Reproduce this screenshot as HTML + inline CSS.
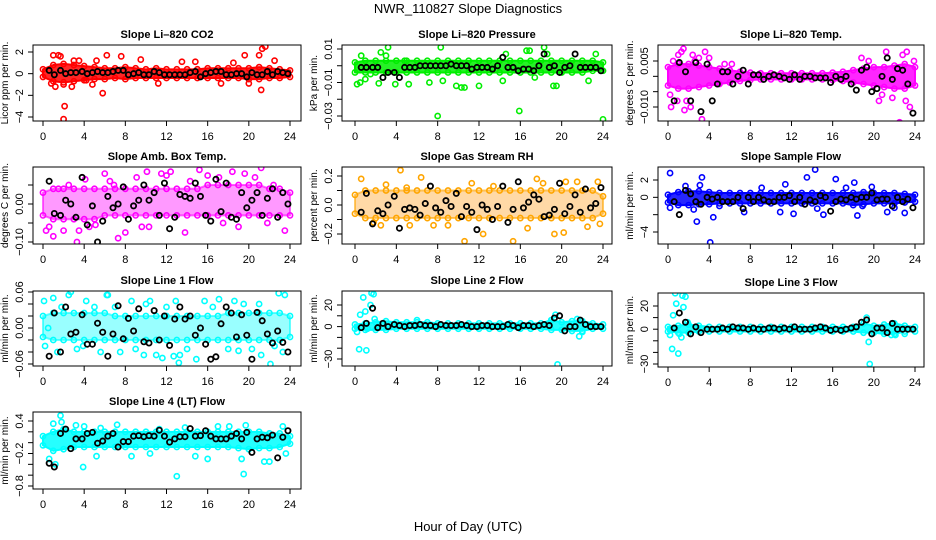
<!DOCTYPE html>
<html><head><meta charset="utf-8"><title>NWR_110827 Slope Diagnostics</title>
<style>
html,body{margin:0;padding:0;background:#fff;}
svg{display:block;font-family:"Liberation Sans",Arial,sans-serif;}
</style></head>
<body>
<svg id="chart" width="936" height="540" viewBox="0 0 936 540" xmlns="http://www.w3.org/2000/svg">
<rect width="936" height="540" fill="#fff"/>
<text x="468" y="13" text-anchor="middle" font-size="13">NWR_110827  Slope Diagnostics</text>
<text x="468" y="531" text-anchor="middle" font-size="13">Hour of Day (UTC)</text>
</svg>
<script>
// ---------- DATA ----------
const bandHours = [0,1,2,3,4,5,6,7,8,9,10,11,12,13,14,15,16,17,18,19,20,21,22,23,24];
const blackHours = [0.6,1.1,1.7,2.2,2.7,3.2,3.8,4.3,4.8,5.3,5.8,6.3,6.8,7.3,7.8,8.3,8.8,9.3,9.8,10.3,10.8,11.3,11.8,12.3,12.8,13.3,13.8,14.3,14.8,15.3,15.8,16.3,16.8,17.3,17.8,18.3,18.8,19.3,19.8,20.3,20.8,21.3,21.8,22.3,22.8,23.3,23.8];
const xTicks = [0,4,8,12,16,20,24];

// Li-820 CO2
const co2Hi = [0.4,0.8,0.9,0.8,0.7,0.6,0.5,0.5,0.6,0.5,0.4,0.5,0.4,0.4,0.4,0.4,0.5,0.5,0.5,0.5,0.5,0.6,0.5,0.4,0.3];
const co2Lo = [-0.3,-0.7,-0.8,-0.7,-0.6,-0.5,-0.5,-0.4,-0.5,-0.4,-0.4,-0.4,-0.4,-0.4,-0.4,-0.4,-0.4,-0.4,-0.4,-0.4,-0.5,-0.5,-0.4,-0.4,-0.3];
const co2Out = [[1.0,1.7],[1.5,1.7],[1.7,1.6],[2.0,-1.0],[2.1,-3.0],[2.0,-4.2],[2.8,-1.2],[3.5,1.2],[4.2,-0.6],[5.2,1.2],[5.8,-1.8],[6.2,1.7],[7.6,1.6],[9.5,1.3],[11.2,-0.9],[13.5,1.1],[14.8,1.1],[17.3,-0.9],[18.5,1.0],[19.6,1.7],[20.0,-0.9],[21.0,1.7],[21.2,-1.5],[21.3,2.3],[21.6,2.5],[22.5,1.2],[0.8,-0.9],[1.2,-1.2],[3.0,1.2],[4.8,-1.0]];
const co2Black = [0.3,-0.1,0.3,0.0,0.1,0.1,0.2,0.0,0.1,0.2,0.1,0.1,0.2,0.3,0.3,-0.1,0.0,0.1,-0.1,-0.1,0.2,0.1,-0.1,-0.1,-0.1,-0.1,-0.1,0.1,0.2,-0.3,0.0,0.1,0.2,0.2,-0.1,-0.1,0.0,0.0,-0.3,0.1,-0.1,-0.1,0.2,-0.1,0.2,0.1,0.0];

// Li-820 Pressure
const presHi = [0.002,0.003,0.003,0.003,0.003,0.003,0.003,0.003,0.003,0.003,0.003,0.003,0.003,0.003,0.003,0.003,0.003,0.003,0.003,0.003,0.003,0.003,0.003,0.003,0.002];
const presLo = [-0.004,-0.004,-0.004,-0.004,-0.004,-0.004,-0.004,-0.004,-0.004,-0.004,-0.004,-0.004,-0.004,-0.004,-0.004,-0.004,-0.004,-0.004,-0.004,-0.004,-0.004,-0.004,-0.004,-0.003,-0.003];
const presOut = [[0.2,-0.011],[0.5,-0.010],[0.6,0.006],[1.0,-0.008],[1.5,-0.005],[2.3,-0.0105],[2.5,0.008],[3.0,0.006],[3.2,0.011],[3.9,-0.011],[4.8,0.003],[5.2,-0.011],[7.2,-0.010],[8.0,-0.030],[8.3,0.011],[8.5,-0.009],[9.8,-0.012],[10.3,-0.013],[10.6,-0.013],[12.0,-0.012],[14.3,-0.009],[14.6,0.007],[15.9,-0.027],[16.6,0.009],[16.9,0.009],[17.4,-0.007],[18.3,0.011],[18.6,0.007],[19.2,-0.012],[19.5,-0.012],[22.6,-0.009],[23.3,0.007],[24.0,-0.032]];
const presBlack = [-0.001,-0.001,-0.001,-0.001,-0.007,-0.004,-0.004,-0.007,-0.001,-0.001,-0.001,0.0,0.0,0.0,0.0,0.0,0.0,0.001,0.0,0.0,0.0,-0.002,-0.001,-0.001,-0.001,-0.002,0.0,0.005,-0.001,-0.001,-0.003,-0.002,-0.002,-0.003,0.0,0.007,-0.001,0.0,-0.004,-0.001,0.0,0.007,-0.001,-0.001,-0.001,-0.001,-0.003];

// Li-820 Temp
const tempHi = [0.003,0.004,0.004,0.0035,0.003,0.0025,0.002,0.0015,0.0012,0.001,0.001,0.001,0.001,0.001,0.001,0.001,0.0012,0.0015,0.002,0.0025,0.003,0.003,0.0035,0.004,0.003];
const tempLo = [-0.003,-0.004,-0.004,-0.0035,-0.003,-0.0025,-0.002,-0.0015,-0.0012,-0.001,-0.001,-0.001,-0.001,-0.001,-0.001,-0.001,-0.0012,-0.0015,-0.002,-0.0025,-0.003,-0.0035,-0.004,-0.004,-0.003];
const tempOut = [[0.3,-0.010],[1.0,0.007],[1.3,0.008],[1.5,0.009],[1.8,-0.008],[2.4,0.007],[3.3,-0.014],[3.6,0.008],[2.2,-0.010],[4.0,0.006],[18.8,0.006],[20.5,-0.008],[21.2,0.008],[22.5,-0.015],[22.8,0.007],[23.2,0.008],[23.1,-0.008],[23.5,-0.010],[0.9,-0.008],[3.0,0.006],[0.5,0.005],[5.5,0.004],[6.2,0.004],[19.5,0.005],[20.8,-0.006],[0.2,-0.006],[1.6,-0.011],[2.6,0.005],[21.8,-0.007],[23.9,0.005]];
const tempBlack = [-0.008,0.0045,0.0015,-0.008,0.0045,-0.0115,0.004,-0.008,-0.0025,0.0015,0.0015,-0.0025,0.0,0.002,-0.0025,0.0005,0.0005,-0.001,0.0,0.0005,0.0,-0.0005,-0.001,0.0005,-0.001,0.0,0.0,-0.0005,-0.0005,-0.0005,-0.002,0.0,-0.001,0.0,-0.0025,-0.0045,0.002,0.003,-0.005,-0.004,0.0,0.006,-0.001,0.0025,0.002,-0.0025,-0.012];

// Amb. Box Temp
const ambHi = [0.03,0.04,0.04,0.04,0.04,0.04,0.04,0.04,0.04,0.04,0.04,0.04,0.04,0.04,0.04,0.04,0.05,0.05,0.05,0.05,0.05,0.05,0.04,0.04,0.03];
const ambLo = [-0.03,-0.04,-0.04,-0.04,-0.04,-0.04,-0.03,-0.03,-0.03,-0.03,-0.03,-0.03,-0.03,-0.03,-0.03,-0.03,-0.03,-0.03,-0.03,-0.03,-0.03,-0.03,-0.03,-0.03,-0.03];
const ambOut = [[0.3,-0.07],[0.6,-0.06],[1.0,-0.085],[1.5,0.04],[2.0,-0.07],[3.3,-0.10],[3.5,-0.07],[4.1,0.065],[5.1,-0.055],[6.0,0.08],[6.5,0.06],[7.3,-0.09],[8.0,-0.075],[9.1,0.07],[10.1,0.085],[10.3,-0.06],[11.5,0.08],[12.4,0.085],[13.8,-0.075],[15.2,0.09],[16.0,0.075],[17.5,-0.05],[18.4,0.085],[19.6,0.08],[20.6,0.07],[21.2,0.095],[22.4,0.05],[23.5,-0.07],[12.0,0.075],[17.1,0.07],[2.5,0.05],[4.5,-0.06],[6.9,0.05],[9.6,-0.06],[14.3,0.06],[19.0,-0.06],[21.8,-0.05]];
const ambBlack = [0.06,-0.025,-0.03,0.01,0.0,-0.035,0.07,-0.055,-0.005,-0.1,-0.045,0.02,-0.01,0.0,0.045,-0.04,-0.005,0.01,0.05,0.01,0.03,-0.03,0.055,-0.065,-0.035,0.025,0.02,0.015,0.055,0.02,-0.03,-0.045,0.065,-0.02,0.055,-0.035,-0.04,0.03,-0.01,0.01,0.03,-0.03,0.015,0.04,-0.035,0.03,0.0];

// Gas Stream RH
const rhHi = [0.07,0.1,0.1,0.1,0.1,0.1,0.1,0.1,0.1,0.1,0.1,0.1,0.1,0.1,0.1,0.1,0.1,0.1,0.1,0.1,0.1,0.1,0.1,0.1,0.06];
const rhLo = [-0.06,-0.09,-0.09,-0.09,-0.09,-0.09,-0.09,-0.09,-0.09,-0.09,-0.09,-0.09,-0.09,-0.09,-0.09,-0.09,-0.09,-0.09,-0.09,-0.09,-0.09,-0.09,-0.09,-0.09,-0.06];
const rhOut = [[0.6,0.18],[1.8,-0.12],[2.5,-0.14],[3.0,0.14],[4.4,0.24],[5.3,-0.14],[6.4,0.19],[7.6,-0.14],[9.0,-0.14],[10.6,-0.25],[11.3,0.15],[12.4,-0.2],[15.3,-0.25],[16.7,-0.16],[17.6,0.18],[18.2,0.15],[19.3,-0.2],[20.2,-0.19],[20.4,0.16],[21.5,0.16],[22.5,-0.15],[23.5,0.16],[23.7,-0.13],[5.0,0.12],[13.4,0.13]];
const rhBlack = [-0.05,0.08,-0.13,-0.04,-0.06,0.0,0.06,-0.16,-0.03,-0.02,-0.03,-0.07,0.01,0.13,-0.02,-0.05,0.03,-0.01,0.08,-0.08,-0.01,-0.05,-0.17,0.0,-0.03,-0.1,-0.01,0.13,-0.12,-0.03,0.16,-0.02,0.02,0.07,0.04,-0.08,-0.07,-0.03,0.15,-0.06,-0.01,0.07,-0.05,0.11,-0.02,0.01,0.12];

// Sample Flow
const smpHi = [0.3,0.6,0.7,0.7,0.6,0.5,0.5,0.5,0.5,0.5,0.5,0.5,0.5,0.5,0.5,0.5,0.5,0.5,0.5,0.6,0.5,0.5,0.5,0.4,0.3];
const smpLo = [-0.6,-0.9,-0.9,-0.8,-0.8,-0.7,-0.7,-0.7,-0.7,-0.7,-0.7,-0.7,-0.7,-0.7,-0.7,-0.7,-0.7,-0.7,-0.9,-0.8,-0.7,-0.7,-0.7,-0.6,-0.5];
const smpOut = [[0.2,2.8],[0.2,-1.2],[1.7,1.3],[2.5,-1.4],[2.8,-2.8],[3.1,1.4],[3.3,2.3],[4.1,-5.2],[4.4,-2.3],[5.0,-1.0],[7.4,-1.7],[9.1,1.1],[10.9,-1.7],[11.4,1.5],[12.2,-1.9],[13.5,2.3],[14.3,3.2],[14.5,-1.3],[15.1,-2.0],[16.3,2.1],[17.3,1.1],[18.1,1.7],[18.4,-2.1],[18.9,-1.0],[19.8,1.2],[21.3,-1.7],[23.0,-1.8],[22.0,-1.2]];
const smpBlack = [-0.5,-2.0,0.8,0.4,-0.5,-0.8,0.0,-0.2,0.0,-0.5,-0.5,-0.5,0.0,-1.3,0.0,-0.5,0.0,-0.3,-0.5,-0.5,0.0,0.0,0.2,-0.5,0.0,-0.8,-0.3,-0.5,0.2,0.0,-1.6,-0.5,-0.2,-0.3,0.0,-0.2,0.0,0.0,0.5,-0.3,-0.2,-0.2,-1.0,0.0,-0.5,-0.2,-1.2];

// Line 1 Flow
const l1Hi = [0.02,0.025,0.025,0.025,0.025,0.025,0.025,0.02,0.02,0.02,0.02,0.02,0.02,0.02,0.02,0.02,0.02,0.02,0.025,0.025,0.025,0.025,0.025,0.025,0.02];
const l1Lo = [-0.015,-0.02,-0.02,-0.02,-0.02,-0.02,-0.02,-0.02,-0.02,-0.02,-0.02,-0.02,-0.02,-0.02,-0.02,-0.02,-0.02,-0.02,-0.02,-0.02,-0.02,-0.02,-0.02,-0.02,-0.015];
const l1Out = [[0.1,0.045],[0.2,-0.03],[1.0,0.05],[1.4,-0.04],[2.5,0.055],[2.7,0.06],[3.3,-0.035],[4.2,0.045],[5.6,-0.04],[6.2,0.055],[6.3,0.055],[7.5,-0.04],[8.6,0.045],[9.8,-0.045],[10.4,0.045],[11.0,-0.045],[11.6,-0.05],[12.7,-0.047],[12.9,0.045],[13.2,-0.058],[13.3,-0.045],[14.9,-0.052],[15.7,0.045],[17.1,0.048],[18.6,0.045],[19.0,-0.038],[20.3,-0.035],[21.2,-0.045],[22.1,-0.06],[22.9,0.058],[23.5,0.055],[23.3,-0.04],[0.5,0.0],[1.8,0.035],[3.9,-0.03],[5.0,0.035],[7.0,0.035],[9.0,-0.035],[10.0,0.04],[12.0,0.035],[14.0,-0.035],[16.5,0.035],[18.0,-0.035],[19.5,0.04],[21.0,0.04],[22.5,-0.03]];
const l1Black = [-0.047,0.025,-0.04,0.035,-0.01,-0.007,0.022,-0.027,-0.027,0.008,-0.007,-0.047,-0.01,0.037,-0.018,0.016,-0.005,0.032,-0.023,-0.025,0.029,-0.02,0.02,-0.029,0.015,0.035,0.015,0.02,-0.012,0.0,-0.027,-0.052,-0.048,0.007,0.035,0.025,-0.015,0.022,-0.012,-0.052,0.026,0.012,-0.01,-0.025,-0.005,-0.024,-0.04];

// Line 2 Flow
const l2Hi = [2,3,4,5,4,4,4,4,3,3,3,3,3,3,3,3,3,3,3,6,4,5,5,3,2];
const l2Lo = [-2,-3,-3,-3,-2,-2,-2,-2,-2,-2,-2,-2,-2,-2,-2,-2,-2,-2,-2,-3,-3,-4,-4,-2,-2];
const l2Out = [[0.2,-5],[0.4,-21],[0.5,11],[0.8,27],[1.0,14],[1.1,-22],[1.5,20],[1.6,31],[1.8,30],[1.2,-2],[1.9,7],[6.0,6],[19.4,11],[19.6,-35],[21.5,7],[21.7,-9],[22.0,-5],[19.0,6]];
const l2Black = [-1,3,17,-1,3,0,2,1,0,1,1,2,1,1,0,2,1,1,1,2,1,0,0,1,1,0,0,0,2,1,-1,1,1,0,1,2,1,8,10,-4,0,0,6,2,0,0,0];

// Line 3 Flow
const l3Hi = [2,3,4,3,2,2,2,2,2,2,2,2,2,2,2,2,2,2,2,5,3,4,5,3,2];
const l3Lo = [-2,-3,-3,-2,-2,-2,-2,-2,-2,-2,-2,-2,-2,-2,-2,-2,-2,-2,-2,-3,-3,-4,-4,-2,-2];
const l3Out = [[0.2,-5],[0.4,-17],[0.5,12],[0.7,31],[0.8,22],[1.0,-21],[1.1,-4],[1.3,-7],[1.4,29],[1.5,19],[1.7,28],[1.9,6],[19.5,-11],[19.6,-30],[19.3,10],[21.7,-5],[22.1,-5],[23.0,-4]];
const l3Black = [1,14,6,-4,2,-3,0,0,0,1,0,2,1,1,0,1,0,0,1,1,0,1,0,2,0,0,0,1,2,1,-1,0,-1,0,1,2,6,8,-4,1,1,-3,5,0,0,0,0];

// Line 4 (LT) Flow
const l4Hi = [0.12,0.2,0.25,0.2,0.2,0.2,0.2,0.2,0.2,0.2,0.2,0.2,0.2,0.2,0.2,0.2,0.2,0.2,0.2,0.2,0.2,0.2,0.17,0.17,0.12];
const l4Lo = [-0.05,-0.15,-0.12,-0.08,-0.08,-0.08,-0.08,-0.08,-0.08,-0.08,-0.08,-0.08,-0.08,-0.08,-0.08,-0.08,-0.08,-0.08,-0.08,-0.1,-0.12,-0.1,-0.1,-0.08,-0.02];
const l4Out = [[0.6,-0.3],[1.0,0.35],[1.2,-0.4],[1.7,0.5],[1.8,0.38],[3.2,0.32],[3.9,-0.45],[4.0,0.3],[5.2,-0.25],[5.6,0.27],[7.2,0.33],[8.6,-0.25],[10.4,-0.2],[11.3,0.25],[12.0,-0.92],[13.0,-0.62],[13.8,0.28],[14.8,-0.25],[16.0,-0.3],[17.0,0.3],[18.1,0.3],[19.3,-0.3],[19.5,-0.58],[19.7,0.32],[20.0,-0.95],[21.5,-0.35],[22.0,-0.35],[23.3,0.3],[23.6,-0.2]];
const l4Black = [-0.38,-0.45,0.17,0.25,-0.11,0.07,0.07,0.17,0.19,-0.01,0.03,0.12,0.17,-0.08,0.02,0.02,0.12,0.13,0.11,0.13,0.12,0.23,0.12,0.01,0.07,0.11,0.11,0.26,0.12,0.13,0.22,0.12,0.07,0.07,0.07,0.12,0.17,0.07,0.19,-0.18,0.07,0.1,0.09,0.14,-0.28,0.1,0.22];

// ---------- RENDER ----------
const NS = "http://www.w3.org/2000/svg";
const svg = document.getElementById('chart');
function mk(tag, attrs, parent){ const e=document.createElementNS(NS,tag); for(const k in attrs) e.setAttribute(k,attrs[k]); (parent||svg).appendChild(e); return e; }

const cols = [{l:33,r:301,x0:43,x24:290},{l:342,r:612,x0:355,x24:603},{l:658,r:924,x0:668,x24:915}];
const panels = [
 {name:'li820-co2',title:'Slope Li\u2013820 CO2',ylab:'Licor ppm per min.',col:0,top:45,bot:121,v0:2,p0:52,v1:-4,p1:117,ticks:[2,0,-2,-4],labs:['2','0','\u22122','\u22124'],color:'#ff0000',hi:co2Hi,lo:co2Lo,out:co2Out,blk:co2Black},
 {name:'li820-pressure',title:'Slope Li\u2013820 Pressure',ylab:'kPa per min.',col:1,top:45,bot:121,v0:0.01,p0:49,v1:-0.03,p1:116,ticks:[0.01,0,-0.01,-0.02,-0.03],labs:['0.01','','\u22120.01','','\u22120.03'],color:'#00ee00',hi:presHi,lo:presLo,out:presOut,blk:presBlack},
 {name:'li820-temp',title:'Slope Li\u2013820 Temp.',ylab:'degrees C per min.',col:2,top:45,bot:121,v0:0.005,p0:61,v1:-0.010,p1:107,ticks:[0.005,0,-0.005,-0.010],labs:['0.005','','','\u22120.010'],color:'#ff00ff',hi:tempHi,lo:tempLo,out:tempOut,blk:tempBlack},
 {name:'amb-box-temp',title:'Slope Amb. Box Temp.',ylab:'degrees C per min.',col:0,top:167,bot:244,v0:0,p0:204,v1:-0.10,p1:242,ticks:[0.05,0,-0.05,-0.10],labs:['','0.00','','\u22120.10'],color:'#ff00ff',hi:ambHi,lo:ambLo,out:ambOut,blk:ambBlack,sparse:true},
 {name:'gas-stream-rh',title:'Slope Gas Stream RH',ylab:'percent per min.',col:1,top:167,bot:244,v0:0.2,p0:176,v1:-0.2,p1:234,ticks:[0.2,0.1,0,-0.1,-0.2],labs:['0.2','','0.0','','\u22120.2'],color:'#ffa500',fill:'#ffa020',hi:rhHi,lo:rhLo,out:rhOut,blk:rhBlack,sparse:true},
 {name:'sample-flow',title:'Slope Sample Flow',ylab:'ml/min per min.',col:2,top:167,bot:244,v0:2,p0:180,v1:-4,p1:232,ticks:[2,0,-2,-4],labs:['2','0','','\u22124'],color:'#0000ff',hi:smpHi,lo:smpLo,out:smpOut,blk:smpBlack},
 {name:'line1-flow',title:'Slope Line 1 Flow',ylab:'ml/min per min.',col:0,top:291,bot:366,v0:0.06,p0:292,v1:-0.06,p1:364,ticks:[0.06,0.04,0.02,0,-0.02,-0.04,-0.06],labs:['0.06','','','0.00','','','\u22120.06'],color:'#00ffff',hi:l1Hi,lo:l1Lo,out:l1Out,blk:l1Black,sparse:true},
 {name:'line2-flow',title:'Slope Line 2 Flow',ylab:'ml/min per min.',col:1,top:291,bot:366,v0:20,p0:305,v1:-30,p1:359,ticks:[20,10,0,-10,-20,-30],labs:['20','','0','','','\u221230'],color:'#00ffff',hi:l2Hi,lo:l2Lo,out:l2Out,blk:l2Black},
 {name:'line3-flow',title:'Slope Line 3 Flow',ylab:'ml/min per min.',col:2,top:293,bot:367,v0:20,p0:306,v1:-30,p1:364,ticks:[20,10,0,-10,-20,-30],labs:['20','','0','','','\u221230'],color:'#00ffff',hi:l3Hi,lo:l3Lo,out:l3Out,blk:l3Black},
 {name:'line4-lt-flow',title:'Slope Line 4 (LT) Flow',ylab:'ml/min per min.',col:0,top:412,bot:489,v0:0.4,p0:421,v1:-0.8,p1:486,ticks:[0.4,0.2,0,-0.2,-0.4,-0.6,-0.8],labs:['0.4','','','\u22120.2','','','\u22120.8'],color:'#00ffff',hi:l4Hi,lo:l4Lo,out:l4Out,blk:l4Black}
];

panels.forEach(p=>{
  const c = cols[p.col];
  const xs = h => c.x0 + h*(c.x24-c.x0)/24;
  const ys = v => p.p0 + (v-p.v0)*(p.p1-p.p0)/(p.v1-p.v0);
  const g = mk('g',{});
  
  
  const cid = 'clip-'+p.name;
  const cp = mk('clipPath',{id:cid},g); mk('rect',{x:c.l,y:p.top,width:c.r-c.l,height:p.bot-p.top},cp);
  const marks = mk('g',{'clip-path':'url(#'+cid+')'},g);
  let pts = bandHours.map((h,i)=>xs(h)+','+ys(p.hi[i]));
  pts = pts.concat(bandHours.slice().reverse().map((h,j)=>{const i=bandHours.length-1-j; return xs(h)+','+ys(p.lo[i]);}));
  const band = mk('polygon',{points:pts.join(' '),fill:p.fill||p.color,'fill-opacity':p.sparse?0.4:0.85,stroke:p.color,'stroke-width':2,'stroke-linejoin':'round','stroke-opacity':p.sparse?0.6:1},marks);
  
  
  bandHours.forEach((h,i)=>{
    [p.hi[i],p.lo[i]].forEach(v=>{
      const e = mk('circle',{cx:xs(h),cy:ys(v),r:2.6,fill:'none',stroke:p.color,'stroke-width':1.6},marks);
      
      
    });
  });
  p.out.forEach(d=>{
    const e = mk('circle',{cx:xs(d[0]),cy:ys(d[1]),r:2.6,fill:'none',stroke:p.color,'stroke-width':1.6},marks);
    
    
  });
  p.blk.forEach((v,i)=>{
    const e = mk('circle',{cx:xs(blackHours[i]),cy:ys(v),r:2.6,fill:'none',stroke:'#000','stroke-width':1.8},marks);
    
    
  });
  const box = mk('rect',{x:c.l,y:p.top,width:c.r-c.l,height:p.bot-p.top,fill:'none',stroke:'#000','stroke-width':1},g);
  
  
  const t = mk('text',{x:(c.l+c.r)/2,y:p.top-7,'text-anchor':'middle','font-size':11,'font-weight':'bold'},g);
  t.textContent = p.title;
  
  
  xTicks.forEach(h=>{
    mk('line',{x1:xs(h),x2:xs(h),y1:p.bot,y2:p.bot+5,stroke:'#000'},g);
    const l = mk('text',{x:xs(h),y:p.bot+19,'text-anchor':'middle','font-size':11},g);
    l.textContent = h;
    
    
  });
  p.ticks.forEach((v,i)=>{
    const y = ys(v);
    mk('line',{x1:c.l-5,x2:c.l,y1:y,y2:y,stroke:'#000'},g);
    if(p.labs[i]){
      const l = mk('text',{x:c.l-10,y:y,'text-anchor':'middle','font-size':11,transform:'rotate(-90 '+(c.l-10)+' '+y+')'},g);
      l.textContent = p.labs[i];
      
      
    }
  });
  const my = (p.top+p.bot)/2, mx = c.l-25;
  const yl = mk('text',{x:mx,y:my,'text-anchor':'middle','font-size':10,transform:'rotate(-90 '+mx+' '+my+')'},g);
  yl.textContent = p.ylab;
  
  
});
</script>
</body></html>
